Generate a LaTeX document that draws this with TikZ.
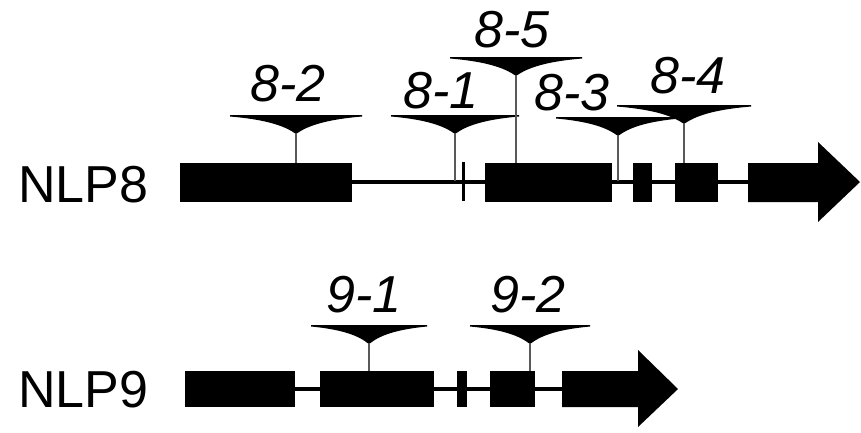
\documentclass[tikz,border=0pt]{standalone}
\usepackage{fontspec}
\setmainfont{Liberation Sans}
\begin{document}
\begin{tikzpicture}[x=1pt,y=-1pt,
  exon/.style={fill=black},
  intron/.style={line width=4pt},
  stem/.style={draw=black!65,line width=2pt},
  gene/.style={font=\fontsize{52}{52}\selectfont,inner sep=0pt,anchor=base west},
  ins/.style={font=\fontsize{52}{52}\selectfont\itshape,inner sep=0pt,anchor=base}]
\useasboundingbox (0,0) rectangle (861,432);
% insertion marker: #1 x, #2 top of funnel, #3 half width, #4 stem bottom
\newcommand{\tdnamark}[4]{%
  \draw[stem] (#1,{#2+14}) -- (#1,#4);
  \fill ({#1-#3},#2) -- ({#1+#3},#2) -- ({#1+#3},{#2+1.5})
    .. controls ({#1+0.55*#3},{#2+4}) and ({#1+0.22*#3},{#2+9}) .. ({#1+1.5},{#2+18})
    -- ({#1-1.5},{#2+18})
    .. controls ({#1-0.22*#3},{#2+9}) and ({#1-0.55*#3},{#2+4}) .. ({#1-#3},{#2+1.5}) -- cycle;}

% ---- NLP8 ----
\node[gene] (n8) at (18,202) {NLP8};
\draw[intron] (352,182) -- (750,182);
\draw[line width=3pt] (463,162) -- (463,201);
\fill[exon] (180,163) rectangle (352,202);
\fill[exon] (485,163) rectangle (612,202);
\fill[exon] (633,163) rectangle (652,202);
\fill[exon] (675,163) rectangle (718,202);
\fill[exon] (748,163) -- (818,163) -- (818,142) -- (860,182) -- (818,222) -- (818,202) -- (748,202) -- cycle;

\tdnamark{296}{115}{66}{163}
\tdnamark{455}{115}{64}{181}
\tdnamark{516}{57}{66}{163}
\tdnamark{618}{117}{62}{181}
\tdnamark{684}{105}{67}{163}

\node[ins] (l82) at (288,101) {8-2};
\node[ins] (l81) at (441,108) {8-1};
\node[ins] (l85) at (512,47) {8-5};
\node[ins] (l83) at (572,110) {8-3};
\node[ins] (l84) at (688,93) {8-4};

% ---- NLP9 ----
\node[gene] (n9) at (18,407) {NLP9};
\draw[intron] (295,389) -- (564,389);
\fill[exon] (185,371) rectangle (295,407);
\fill[exon] (320,371) rectangle (434,407);
\fill[exon] (457,371) rectangle (467,407);
\fill[exon] (490,371) rectangle (535,407);
\fill[exon] (562,371) -- (638,371) -- (638,350) -- (678,389) -- (638,427) -- (638,407) -- (562,407) -- cycle;

\tdnamark{369}{325}{58}{371}
\tdnamark{530}{325}{60}{371}

\node[ins] (l91) at (364,312) {9-1};
\node[ins] (l92) at (528,312) {9-2};
\end{tikzpicture}
\end{document}
